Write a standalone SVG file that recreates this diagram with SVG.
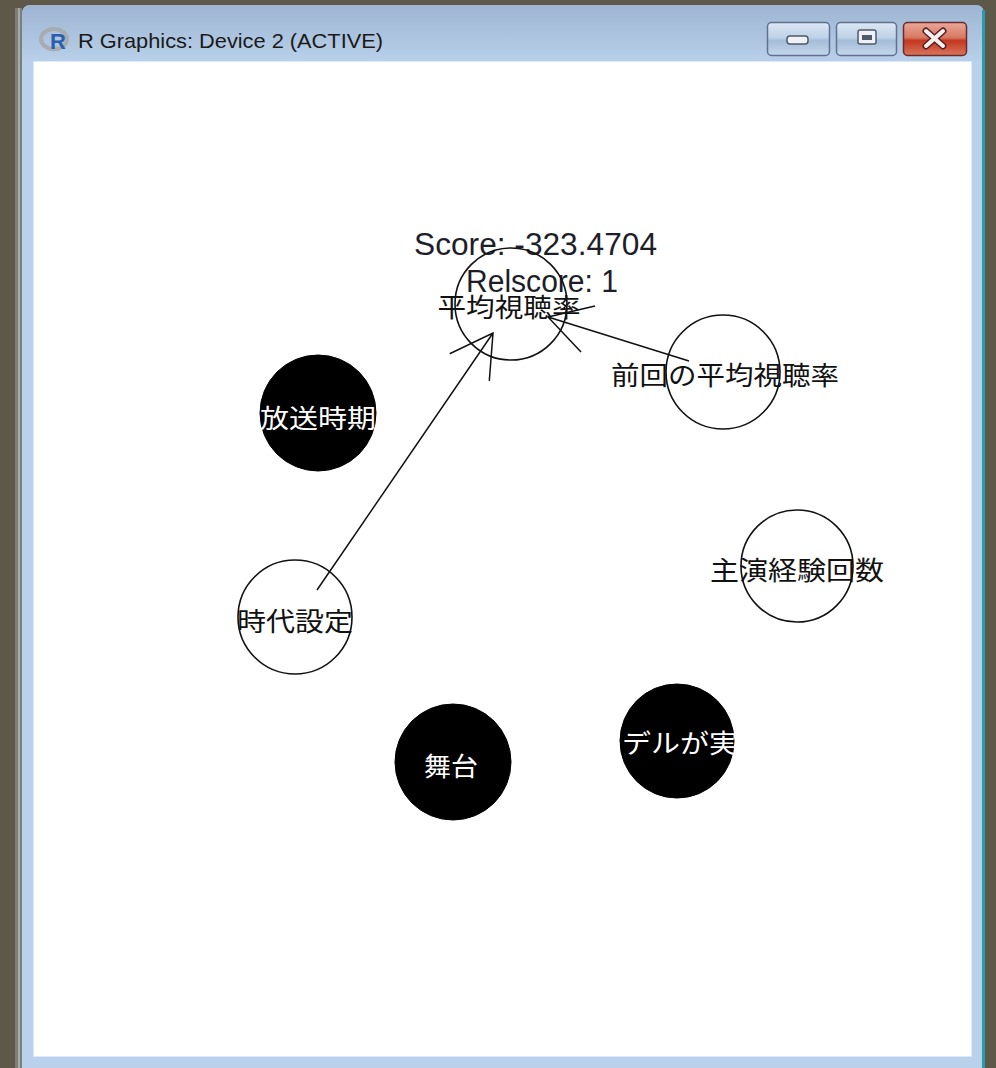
<svg xmlns="http://www.w3.org/2000/svg" width="996" height="1068" viewBox="0 0 996 1068">
<style>
.lbl{font-family:"Noto Sans CJK JP","Noto Sans CJK SC",sans-serif;font-size:26px;text-anchor:middle;fill:#111}
.lblw{font-family:"Noto Sans CJK JP","Noto Sans CJK SC",sans-serif;font-size:26px;text-anchor:middle;fill:#fff}
.ring{fill:none;stroke:#111;stroke-width:1.6}
.blk{fill:#000;stroke:#000;stroke-width:1}
.edge{fill:none;stroke:#111;stroke-width:1.5}
.score{font-family:"Liberation Sans",Arial,sans-serif;font-size:31px;fill:#1e1e2a}
.btn{stroke:#5f7190;stroke-width:1.5}
</style>
<defs>
<linearGradient id="title" x1="0" y1="0" x2="0" y2="1">
<stop offset="0" stop-color="#9db5d2"/>
<stop offset="1" stop-color="#b9d0ea"/>
</linearGradient>
<linearGradient id="bgBtn" x1="0" y1="0" x2="0" y2="1">
<stop offset="0" stop-color="#dbe7f4"/>
<stop offset="0.45" stop-color="#bfd2e8"/>
<stop offset="0.55" stop-color="#a4bcd8"/>
<stop offset="1" stop-color="#c6d8ec"/>
</linearGradient>
<linearGradient id="redBtn" x1="0" y1="0" x2="0" y2="1">
<stop offset="0" stop-color="#e9a898"/>
<stop offset="0.45" stop-color="#d77a64"/>
<stop offset="0.55" stop-color="#c2381f"/>
<stop offset="1" stop-color="#d9765c"/>
</linearGradient>
</defs>

<!-- desktop background -->
<rect x="0" y="0" width="996" height="1068" fill="#5e5848"/>

<!-- window chrome -->
<g id="window">
<rect x="15" y="8" width="7" height="1060" fill="#7d7d7a"/>
<rect x="18" y="8" width="2" height="1060" fill="#a9a9a6"/>
<path d="M22 1068 V14 Q22 5 31 5 H975 Q984 5 984 14 V1068 Z" fill="#b9d1ea"/>
<path d="M22 62 V14 Q22 5 31 5 H975 Q984 5 984 14 V62 Z" fill="url(#title)"/>
<rect x="982" y="10" width="3" height="1058" fill="#2c9aae"/>
<rect x="33" y="61" width="939" height="996" fill="#dde9f6"/>
<rect x="34" y="62" width="937" height="994" fill="#ffffff"/>
<!-- icon -->
<ellipse cx="54" cy="39" rx="13" ry="10" fill="none" stroke="#a8abb0" stroke-width="4"/>
<text x="50" y="49" font-family="Liberation Sans, Arial, sans-serif" font-weight="bold" font-size="22" fill="#2a5fae">R</text>
<text x="78" y="48" font-family="Liberation Sans, Arial, sans-serif" font-size="21" fill="#1a1a1a" textLength="305" lengthAdjust="spacingAndGlyphs">R Graphics: Device 2 (ACTIVE)</text>
<!-- buttons -->
<rect class="btn" x="767.5" y="22.5" width="62" height="33" rx="4" fill="url(#bgBtn)"/>
<rect x="787" y="36" width="21" height="8" rx="3" fill="#eef2f7" stroke="#4e5a6c" stroke-width="1.5"/>
<rect class="btn" x="836.5" y="22.5" width="60" height="33" rx="4" fill="url(#bgBtn)"/>
<rect x="858" y="30" width="18" height="14" rx="2" fill="#eef2f7" stroke="#4e5a6c" stroke-width="1.5"/>
<rect x="862" y="35" width="10" height="5" fill="#4e5a6c"/>
<rect x="903.5" y="22.5" width="63" height="33" rx="4" fill="url(#redBtn)" stroke="#6a2a2e" stroke-width="1.5"/>
<path d="M926 31 L943 46 M943 31 L926 46" stroke="#5a2020" stroke-width="7" stroke-linecap="round"/>
<path d="M926 31 L943 46 M943 31 L926 46" stroke="#f6f0ee" stroke-width="4" stroke-linecap="round"/>
</g>

<!-- score text -->
<g id="score">
<text class="score" x="414" y="255" textLength="243" lengthAdjust="spacingAndGlyphs">Score: -323.4704</text>
<text class="score" x="466" y="292" textLength="152" lengthAdjust="spacingAndGlyphs">Relscore: 1</text>
</g>

<!-- nodes (shapes) -->
<g id="node-heikin">
<circle class="ring" cx="511" cy="304" r="56"/>
</g>
<g id="node-zenkai">
<circle class="ring" cx="723" cy="372" r="57"/>
</g>
<g id="node-shuen">
<circle class="ring" cx="797" cy="566" r="56"/>
</g>
<g id="node-housou">
<circle class="blk" cx="318" cy="413" r="58"/>
</g>
<g id="node-jidai">
<circle class="ring" cx="295" cy="617" r="57"/>
</g>
<g id="node-butai">
<circle class="blk" cx="453" cy="762" r="58"/>
</g>
<g id="node-model">
<circle class="blk" cx="677" cy="741" r="57"/>
</g>

<!-- connectors -->
<g id="edges">
<path class="edge" d="M317 590 L493 333 M449.7 353.7 L493 333 L489.3 380.9"/>
<path class="edge" d="M689 361 L548 317 M581 352 L548 317 L595 306"/>
</g>

<!-- labels -->
<g id="labels">
<text class="lbl" x="509" y="317" textLength="143" lengthAdjust="spacingAndGlyphs">平均視聴率</text>
<text class="lbl" x="725" y="385" textLength="228" lengthAdjust="spacingAndGlyphs">前回の平均視聴率</text>
<text class="lbl" x="797" y="580" textLength="174" lengthAdjust="spacingAndGlyphs">主演経験回数</text>
<text class="lblw" x="318" y="428" textLength="116" lengthAdjust="spacingAndGlyphs">放送時期</text>
<text class="lbl" x="295" y="631" textLength="116" lengthAdjust="spacingAndGlyphs">時代設定</text>
<text class="lblw" x="451" y="776" textLength="54" lengthAdjust="spacingAndGlyphs">舞台</text>
<text class="lblw" x="680" y="753" textLength="174" lengthAdjust="spacingAndGlyphs">モデルが実在</text>
</g>
</svg>
